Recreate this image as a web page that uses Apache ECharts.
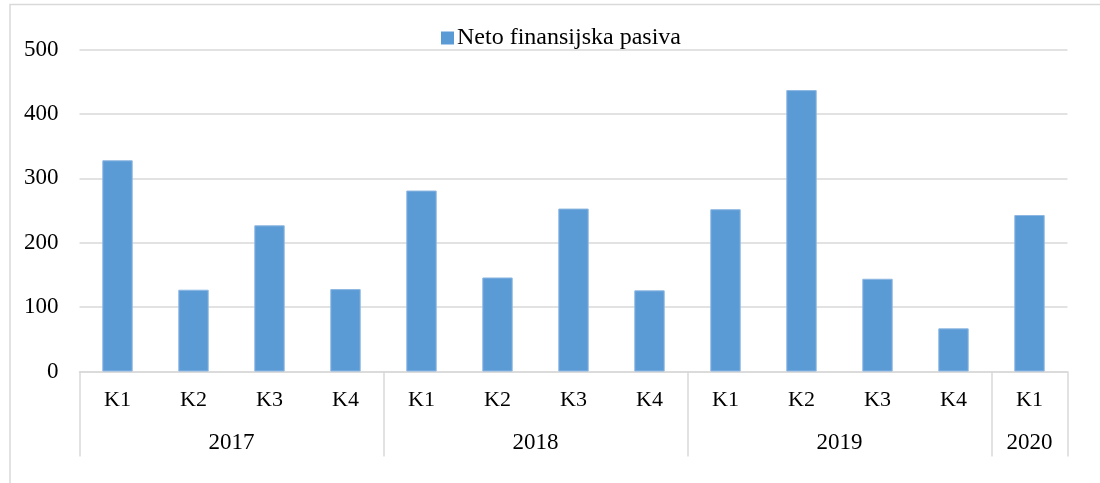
<!DOCTYPE html>
<html>
<head>
<meta charset="utf-8">
<script src="https://cdn.jsdelivr.net/npm/echarts@6/dist/echarts.min.js"></script>
<style>
  html, body { margin: 0; padding: 0; background: #fff; }
  #main { width: 1100px; height: 483px; }
</style>
</head>
<body>
<div id="main"></div>
<script>
// quarterly data, bottom axis has two levels: quarter + year
var quarters = ['K1', 'K2', 'K3', 'K4', 'K1', 'K2', 'K3', 'K4', 'K1', 'K2', 'K3', 'K4', 'K1'];
var years = ['2017', '2018', '2019', '2020'];
var yearSpans = [4, 4, 4, 1]; // how many quarters under each year
var netoPasiva = [328, 127, 227, 128, 281, 146, 253, 126, 252, 437, 144, 67, 243];
var yTicks = [0, 100, 200, 300, 400, 500];

var font = "'Liberation Serif', 'Times New Roman', serif";
var gridColor = '#d9d9d9';

// year boundaries and centers (in quarter units)
var yearEdges = [0];
var yearCenters = [];
for (var i = 0; i < yearSpans.length; i++) {
    var start = yearEdges[yearEdges.length - 1];
    yearCenters.push(start + yearSpans[i] / 2);
    yearEdges.push(start + yearSpans[i]);
}

var dom = document.getElementById('main');
var myChart = echarts.init(dom, null, { renderer: 'canvas' });

var option = {
    animation: false,
    textStyle: { fontFamily: font },
    graphic: [{
        type: 'rect',
        shape: { x: 10, y: 4.5, width: 1200, height: 600 },
        style: { fill: 'none', stroke: gridColor, lineWidth: 1.5 },
        silent: true
    }],
    legend: {
        data: ['Neto finansijska pasiva'],
        left: 436,
        top: 21,
        icon: 'rect',
        itemWidth: 13,
        itemHeight: 13,
        itemGap: 5,
        itemStyle: { borderWidth: 0 },
        textStyle: { fontFamily: font, fontSize: 24, color: '#000', padding: [0, 0, 0, -2] }
    },
    grid: {
        left: 79.5,
        right: 32.5,
        top: 49.5,
        bottom: 111.5,
        containLabel: false
    },
    xAxis: [{
            type: 'category',
            data: quarters,
            boundaryGap: true,
            axisLine: { lineStyle: { color: gridColor, width: 1.5 } },
            axisTick: { show: false },
            axisLabel: { fontFamily: font, fontSize: 22, color: '#000', margin: 18, interval: 0 }
        },
        {
            type: 'value',
            position: 'bottom',
            min: 0,
            max: quarters.length,
            axisLine: { show: false },
            splitLine: { show: false },
            axisTick: {
                show: true,
                length: 85,
                customValues: yearEdges,
                lineStyle: { color: gridColor, width: 1.5 }
            },
            axisLabel: {
                fontFamily: font,
                fontSize: 23,
                color: '#000',
                margin: 60,
                customValues: yearCenters,
                formatter: function(v) {
                    var k = yearCenters.indexOf(v);
                    return k >= 0 ? years[k] : '';
                }
            }
        }
    ],
    yAxis: {
        type: 'value',
        min: yTicks[0],
        max: yTicks[yTicks.length - 1],
        interval: 100,
        axisLine: { show: false },
        axisTick: { show: false },
        splitLine: { lineStyle: { color: gridColor, width: 1.5 } },
        axisLabel: { fontFamily: font, fontSize: 23, color: '#000', margin: 21 }
    },
    series: [{
        name: 'Neto finansijska pasiva',
        type: 'bar',
        xAxisIndex: 0,
        barWidth: '40%',
        data: netoPasiva,
        itemStyle: { color: '#5b9bd5', borderColor: '#8db7e2', borderWidth: 1 }
    }]
};

myChart.setOption(option);
</script>
</body>
</html>
